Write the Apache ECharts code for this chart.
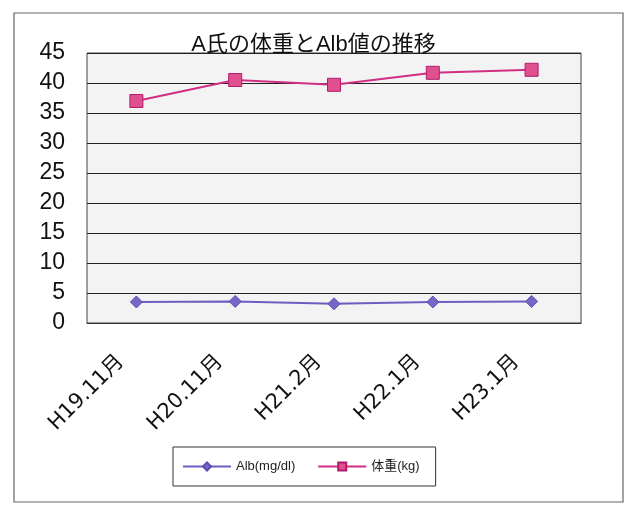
<!DOCTYPE html>
<html>
<head>
<meta charset="utf-8">
<script src="https://cdn.jsdelivr.net/npm/echarts@6/dist/echarts.min.js"></script>
<style>
html,body{margin:0;padding:0;background:#fff;}
#chart{width:627px;height:505px;}
</style>
</head>
<body>
<div id="chart"></div>
<script>
// Survey dates (Japanese era notation)
const categories = ['H19.11月', 'H20.11月', 'H21.2月', 'H22.1月', 'H23.1月'];
// Serum albumin, mg/dl
const albValues = [3.5, 3.6, 3.2, 3.5, 3.6];
// Body weight, kg
const weightValues = [37.0, 40.5, 39.7, 41.7, 42.2];
const yTicks = { min: 0, max: 45, interval: 5 };

const font = "'Liberation Sans', 'Noto Sans CJK JP', sans-serif";
const labelFont = "'DejaVu Sans', 'Noto Sans CJK JP', sans-serif";
const chart = echarts.init(document.getElementById('chart'));
chart.setOption({
  animation: false,
  backgroundColor: '#ffffff',
  title: {
    text: 'A氏の体重とAlb値の推移',
    left: 'center',
    top: 29,
    textStyle: { fontFamily: font, fontSize: 22, fontWeight: 'normal', color: '#111' }
  },
  graphic: [{
    type: 'rect',
    shape: { x: 14, y: 13, width: 609, height: 489 },
    style: { fill: 'none', stroke: '#666', lineWidth: 1.2 },
    silent: true
  }],
  legend: {
    top: 447,
    left: 173,
    itemGap: 22,
    itemWidth: 48,
    itemHeight: 10,
    padding: [13, 16, 13, 9],
    borderColor: '#333',
    borderWidth: 1,
    textStyle: { fontFamily: font, fontSize: 13, color: '#222' },
    data: ['Alb(mg/dl)', '体重(kg)']
  },
  grid: { left: 87, right: 46, top: 53, bottom: 182, show: true, backgroundColor: '#f3f3f3', borderColor: '#444', borderWidth: 1 },
  xAxis: {
    type: 'category',
    data: categories,
    boundaryGap: true,
    axisLine: { lineStyle: { color: '#333' } },
    axisTick: { inside: true, length: 5, lineStyle: { color: '#333' } },
    axisLabel: { rotate: 45, fontFamily: labelFont, fontSize: 21, color: '#111', margin: 20, padding: [0, 22, 0, 0] }
  },
  yAxis: {
    type: 'value',
    min: yTicks.min, max: yTicks.max, interval: yTicks.interval,
    axisLine: { show: false },
    axisTick: { show: false },
    splitLine: { lineStyle: { color: '#222', width: 1 } },
    axisLabel: { fontFamily: font, fontSize: 23, color: '#111', margin: 22 }
  },
  series: [
    {
      name: 'Alb(mg/dl)',
      type: 'line',
      data: albValues,
      symbol: 'diamond',
      symbolSize: 12,
      lineStyle: { color: '#6a5fc0', width: 2 },
      itemStyle: { color: '#7566c8', borderColor: '#5a4fb0', borderWidth: 1 }
    },
    {
      name: '体重(kg)',
      type: 'line',
      data: weightValues,
      symbol: 'rect',
      symbolSize: 13,
      lineStyle: { color: '#d12e84', width: 2 },
      itemStyle: { color: '#e0508f', borderColor: '#b01c6c', borderWidth: 1 }
    }
  ]
});
</script>
</body>
</html>
